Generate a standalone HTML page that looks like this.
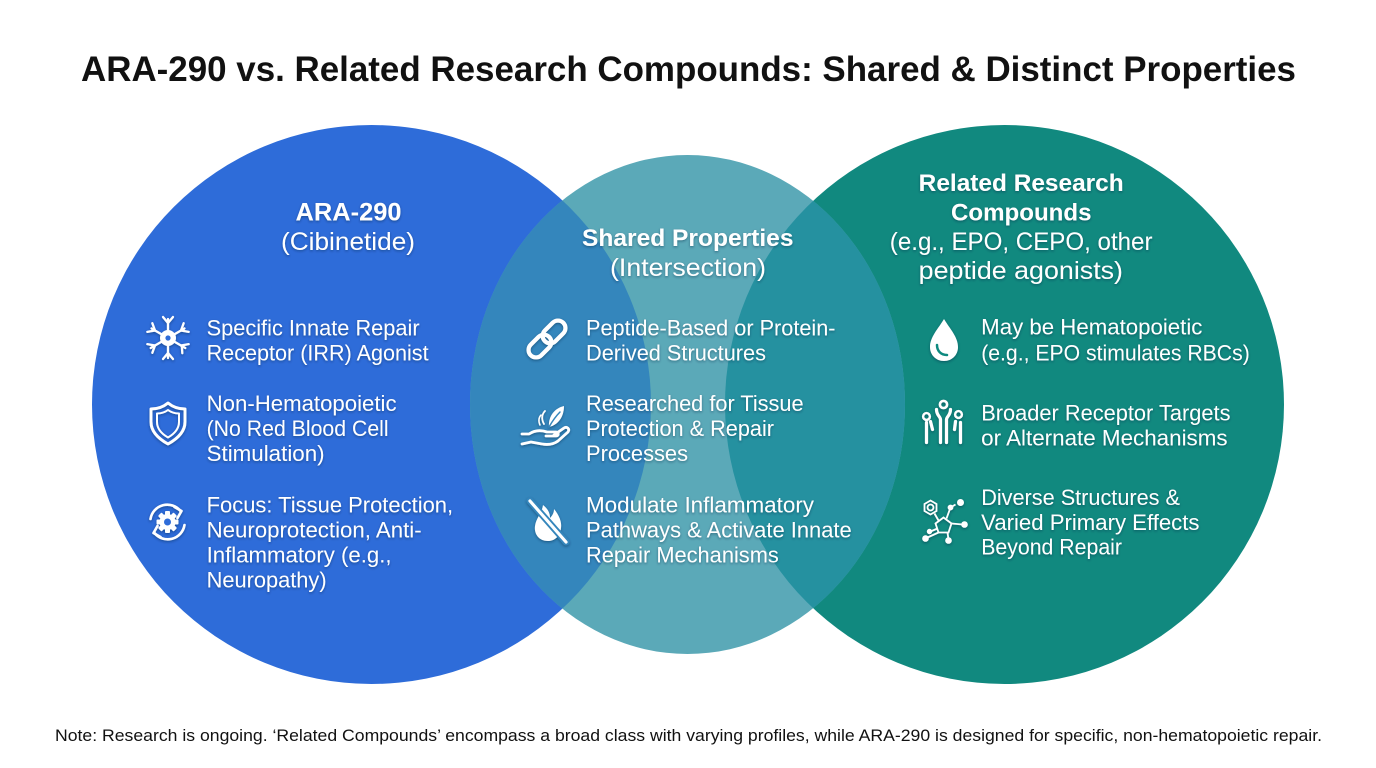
<!DOCTYPE html>
<html>
<head>
<meta charset="utf-8">
<style>
  html,body{margin:0;padding:0;background:#ffffff;}
  body{width:1376px;height:768px;overflow:hidden;}
  svg{display:block;}
  text{font-family:"Liberation Sans",Arial,sans-serif;}
  .w{fill:#ffffff;}
  .b{font-weight:bold;}
</style>
</head>
<body>
<svg width="1376" height="768" viewBox="0 0 1376 768" xmlns="http://www.w3.org/2000/svg">
  <defs>
    <clipPath id="midClip">
      <ellipse cx="687.5" cy="404.5" rx="217.5" ry="249.5"/>
    </clipPath>
    <filter id="sh" x="-10%" y="-30%" width="120%" height="160%">
      <feDropShadow dx="0" dy="1.2" stdDeviation="1.3" flood-color="#0a2540" flood-opacity="0.45"/>
    </filter>
  </defs>

  <rect width="1376" height="768" fill="#ffffff"/>

  <!-- Title -->
  <text x="81" y="81" font-size="35" class="b" fill="#111111" textLength="1215" lengthAdjust="spacingAndGlyphs">ARA-290 vs. Related Research Compounds: Shared &amp; Distinct Properties</text>

  <!-- Circles -->
  <circle cx="371.5" cy="404.5" r="279.5" fill="#2E6CD9"/>
  <circle cx="1004.5" cy="404.5" r="279.5" fill="#11897F"/>
  <ellipse cx="687.5" cy="404.5" rx="217.5" ry="249.5" fill="#5BA9B8"/>
  <g clip-path="url(#midClip)">
    <circle cx="371.5" cy="404.5" r="279.5" fill="#3486BC"/>
    <circle cx="1004.5" cy="404.5" r="279.5" fill="#2591A0"/>
  </g>

  <!-- Text -->
  <g class="w" filter="url(#sh)">
    <!-- Left header -->
    <text x="295.5" y="220.7" font-size="25" class="b" textLength="106" lengthAdjust="spacingAndGlyphs">ARA-290</text>
    <text x="281" y="250" font-size="25" textLength="134" lengthAdjust="spacingAndGlyphs">(Cibinetide)</text>

    <!-- Middle header -->
    <text x="582" y="246" font-size="24" class="b" textLength="211.5" lengthAdjust="spacingAndGlyphs">Shared Properties</text>
    <text x="610" y="276" font-size="25" textLength="156" lengthAdjust="spacingAndGlyphs">(Intersection)</text>

    <!-- Right header -->
    <text x="918.7" y="191" font-size="24" class="b" textLength="205" lengthAdjust="spacingAndGlyphs">Related Research</text>
    <text x="951" y="220.6" font-size="24" class="b" textLength="140.5" lengthAdjust="spacingAndGlyphs">Compounds</text>
    <text x="889.8" y="250" font-size="25" textLength="262.7" lengthAdjust="spacingAndGlyphs">(e.g., EPO, CEPO, other</text>
    <text x="918.7" y="279" font-size="25" textLength="204.3" lengthAdjust="spacingAndGlyphs">peptide agonists)</text>

    <!-- Left items -->
    <text x="206.6" y="335.5" font-size="22" textLength="213" lengthAdjust="spacingAndGlyphs">Specific Innate Repair</text>
    <text x="206.6" y="360.5" font-size="22" textLength="222" lengthAdjust="spacingAndGlyphs">Receptor (IRR) Agonist</text>
    <text x="206.6" y="411" font-size="22" textLength="190" lengthAdjust="spacingAndGlyphs">Non-Hematopoietic</text>
    <text x="206.6" y="436" font-size="22" textLength="182" lengthAdjust="spacingAndGlyphs">(No Red Blood Cell</text>
    <text x="206.6" y="461" font-size="22" textLength="118" lengthAdjust="spacingAndGlyphs">Stimulation)</text>
    <text x="206.6" y="512.7" font-size="22" textLength="246.5" lengthAdjust="spacingAndGlyphs">Focus: Tissue Protection,</text>
    <text x="206.6" y="537.7" font-size="22" textLength="215" lengthAdjust="spacingAndGlyphs">Neuroprotection, Anti-</text>
    <text x="206.6" y="562.7" font-size="22" textLength="185" lengthAdjust="spacingAndGlyphs">Inflammatory (e.g.,</text>
    <text x="206.6" y="587.7" font-size="22" textLength="120" lengthAdjust="spacingAndGlyphs">Neuropathy)</text>

    <!-- Middle items -->
    <text x="586" y="335.5" font-size="22" textLength="249.5" lengthAdjust="spacingAndGlyphs">Peptide-Based or Protein-</text>
    <text x="586" y="360.5" font-size="22" textLength="180" lengthAdjust="spacingAndGlyphs">Derived Structures</text>
    <text x="586" y="411" font-size="22" textLength="217.6" lengthAdjust="spacingAndGlyphs">Researched for Tissue</text>
    <text x="586" y="436" font-size="22" textLength="188" lengthAdjust="spacingAndGlyphs">Protection &amp; Repair</text>
    <text x="586" y="461" font-size="22" textLength="102" lengthAdjust="spacingAndGlyphs">Processes</text>
    <text x="586" y="512.7" font-size="22" textLength="228" lengthAdjust="spacingAndGlyphs">Modulate Inflammatory</text>
    <text x="586" y="537.7" font-size="22" textLength="265.7" lengthAdjust="spacingAndGlyphs">Pathways &amp; Activate Innate</text>
    <text x="586" y="562.7" font-size="22" textLength="192.8" lengthAdjust="spacingAndGlyphs">Repair Mechanisms</text>

    <!-- Right items -->
    <text x="981.2" y="334.6" font-size="22" textLength="221.2" lengthAdjust="spacingAndGlyphs">May be Hematopoietic</text>
    <text x="981.2" y="360.5" font-size="22" textLength="268.6" lengthAdjust="spacingAndGlyphs">(e.g., EPO stimulates RBCs)</text>
    <text x="981.2" y="420.4" font-size="22" textLength="249.3" lengthAdjust="spacingAndGlyphs">Broader Receptor Targets</text>
    <text x="981.2" y="445.6" font-size="22" textLength="246.4" lengthAdjust="spacingAndGlyphs">or Alternate Mechanisms</text>
    <text x="981.2" y="504.8" font-size="22" textLength="198.8" lengthAdjust="spacingAndGlyphs">Diverse Structures &amp;</text>
    <text x="981.2" y="530" font-size="22" textLength="218.3" lengthAdjust="spacingAndGlyphs">Varied Primary Effects</text>
    <text x="981.2" y="554.7" font-size="22" textLength="140.8" lengthAdjust="spacingAndGlyphs">Beyond Repair</text>
  </g>

  <!-- Icons -->
  <g filter="url(#sh)">
    <!-- Neuron -->
    <g transform="translate(168,338)" stroke="#fff" stroke-width="2.3" fill="none" stroke-linecap="round">
      <g>
        <line x1="0" y1="-7" x2="0" y2="-19"/><line x1="0" y1="-15" x2="-5" y2="-21"/><line x1="0" y1="-15" x2="5" y2="-21"/>
      </g>
      <g transform="rotate(60)">
        <line x1="0" y1="-7" x2="0" y2="-19"/><line x1="0" y1="-15" x2="-5" y2="-21"/><line x1="0" y1="-15" x2="5" y2="-21"/>
      </g>
      <g transform="rotate(120)">
        <line x1="0" y1="-7" x2="0" y2="-20"/><line x1="0" y1="-15" x2="-5" y2="-21"/><line x1="0" y1="-16" x2="6" y2="-20"/>
      </g>
      <g transform="rotate(180)">
        <line x1="0" y1="-7" x2="0" y2="-20"/><line x1="0" y1="-15" x2="-5" y2="-21"/><line x1="0" y1="-15" x2="5" y2="-21"/>
      </g>
      <g transform="rotate(240)">
        <line x1="0" y1="-7" x2="0" y2="-20"/><line x1="0" y1="-15" x2="-5" y2="-21"/><line x1="0" y1="-15" x2="5" y2="-21"/>
      </g>
      <g transform="rotate(300)">
        <line x1="0" y1="-7" x2="0" y2="-19"/><line x1="0" y1="-15" x2="-5" y2="-21"/><line x1="0" y1="-15" x2="5" y2="-21"/>
      </g>
      <circle cx="0" cy="0" r="8" fill="#fff" stroke="none"/>
      <circle cx="0" cy="0" r="2.6" fill="#2E6CD9" stroke="none"/>
    </g>

    <!-- Shield -->
    <g transform="translate(168,423)" stroke="#fff" fill="none" stroke-linejoin="round">
      <path d="M0,-20 C6,-15 12,-14 17,-14 L17,-1 C17,9 9,16 0,21 C-9,16 -17,9 -17,-1 L-17,-14 C-12,-14 -6,-15 0,-20 Z" stroke-width="3"/>
      <path d="M0,-13 C4,-10 8,-9.5 11,-9.5 L11,-1 C11,6 6,11 0,14.5 C-6,11 -11,6 -11,-1 L-11,-9.5 C-8,-9.5 -4,-10 0,-13 Z" stroke-width="2"/>
    </g>

    <!-- Gear with refresh arrows -->
    <g transform="translate(167.5,522)" stroke="#fff" fill="none" stroke-linecap="round" stroke-linejoin="round">
      <path d="M-17,-3 A17,17 0 0 1 13,-11" stroke-width="2.6"/>
      <path d="M7,-15 L14,-11 L10,-4" stroke-width="2.6"/>
      <path d="M17,3 A17,17 0 0 1 -13,11" stroke-width="2.6"/>
      <path d="M-7,15 L-14,11 L-10,4" stroke-width="2.6"/>
      <g fill="#fff" stroke="none">
        <circle r="8"/>
        <rect x="-2.5" y="-11" width="5" height="22" rx="1"/>
        <rect x="-2.5" y="-11" width="5" height="22" rx="1" transform="rotate(45)"/>
        <rect x="-2.5" y="-11" width="5" height="22" rx="1" transform="rotate(90)"/>
        <rect x="-2.5" y="-11" width="5" height="22" rx="1" transform="rotate(135)"/>
        <circle r="3.5" fill="#2E6CD9"/>
      </g>
    </g>

    <!-- Link -->
    <g transform="translate(547,339) rotate(-45)" stroke="#fff" fill="none" stroke-width="4.2">
      <rect x="-23" y="-7.5" width="26" height="15" rx="7.5"/>
      <rect x="-3" y="-7.5" width="26" height="15" rx="7.5"/>
    </g>

    <!-- Hand with leaf -->
    <g transform="translate(547,425)" stroke="#fff" fill="none" stroke-width="2.8" stroke-linecap="round" stroke-linejoin="round">
      <path d="M-25,9 L-18,9 C-12,5 -6,5 0,7 L9,7 C12,7 12,11 9,11 L-1,11"/>
      <path d="M7,10 L17,3 C20,1 23,4 21,7 L11,16 C7,19 1,20 -5,19 L-16,17 L-25,19"/>
      <path d="M2,2 C1,-9 8,-17 17,-19 C17,-8 11,0 2,2 Z" fill="#fff" stroke="none"/>
      <path d="M2,2 C6,-5 9,-9 13,-13" stroke="#3486BC" stroke-width="1.5"/>
      <path d="M-3,-1 C-6,-6 -5,-11 -2,-14" stroke-width="1.8"/>
      <path d="M-7,0 C-9,-4 -8,-8 -6,-10" stroke-width="1.5"/>
    </g>

    <!-- Fire off -->
    <g transform="translate(548,521)">
      <path d="M0,20 C-10,20 -14,12 -13,5 C-12,-3 -6,-8 -5,-16 C0,-12 2,-8 2,-3 C5,-6 6,-9 6,-12 C11,-6 14,1 13,7 C12,15 7,20 0,20 Z" fill="#fff"/>
      <line x1="-18" y1="-20" x2="18" y2="21" stroke="#3486BC" stroke-width="7" stroke-linecap="round"/>
      <line x1="-18" y1="-20" x2="18" y2="21" stroke="#fff" stroke-width="3.2" stroke-linecap="round"/>
    </g>

    <!-- Drop -->
    <g transform="translate(944,340)">
      <path d="M0,-21 C6,-11 14,-3 14,7 C14,15 8,21 0,21 C-8,21 -14,15 -14,7 C-14,-3 -6,-11 0,-21 Z" fill="#fff"/>
      <path d="M-7,5 C-7,11 -3,15 3,15" stroke="#11897F" stroke-width="2.5" fill="none" stroke-linecap="round"/>
    </g>

    <!-- People -->
    <g transform="translate(943.5,422.5)" stroke="#fff" fill="none" stroke-linecap="round" stroke-width="3.2">
      <circle cx="0" cy="-18" r="3.6" stroke-width="2.6"/>
      <path d="M-7,-13 C-7,-7 -3,-6 -3,-3 L-3,20"/>
      <path d="M7,-13 C7,-7 3,-6 3,-3 L3,20"/>
      <circle cx="-17" cy="-6" r="3.4" stroke-width="2.4"/>
      <path d="M-17,0 L-17,20"/>
      <path d="M-13,-1 L-11,7"/>
      <circle cx="15" cy="-8" r="3.4" stroke-width="2.4"/>
      <path d="M17,0 L17,20"/>
      <path d="M12,-1 L11,7"/>
    </g>

    <!-- Molecule -->
    <g transform="translate(943.5,519.5)" stroke="#fff" fill="none" stroke-width="1.8">
      <polygon points="-13,-19 -7,-15.5 -7,-8.5 -13,-5 -19,-8.5 -19,-15.5"/>
      <circle cx="-13" cy="-12" r="3"/>
      <polygon points="0,-2 8,4 5,13 -5,13 -8,4"/>
      <line x1="-9" y1="-6" x2="-5" y2="1"/>
      <line x1="3" y1="-1" x2="7" y2="-12"/>
      <line x1="7" y1="-12" x2="12" y2="-15"/>
      <circle cx="7" cy="-12" r="2" fill="#fff"/>
      <circle cx="17" cy="-17" r="2.6" fill="#fff"/>
      <line x1="8" y1="4" x2="19" y2="5"/>
      <circle cx="21" cy="5" r="2.4" fill="#fff"/>
      <line x1="-5" y1="13" x2="-16" y2="18"/>
      <circle cx="-18" cy="19" r="2.4" fill="#fff"/>
      <line x1="4" y1="13" x2="5" y2="20"/>
      <circle cx="5" cy="21" r="2.4" fill="#fff"/>
      <line x1="-6" y1="9" x2="-13" y2="12"/>
      <circle cx="-14" cy="12" r="1.8" fill="#fff"/>
    </g>
  </g>

  <!-- Footnote -->
  <text x="55" y="741" font-size="16.5" fill="#111111" textLength="1267" lengthAdjust="spacingAndGlyphs">Note: Research is ongoing. ‘Related Compounds’ encompass a broad class with varying profiles, while ARA-290 is designed for specific, non-hematopoietic repair.</text>
</svg>
</body>
</html>
